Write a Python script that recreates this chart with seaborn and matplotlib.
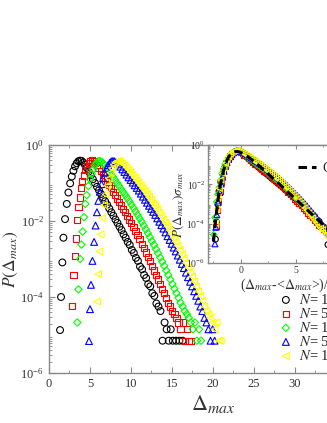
import numpy as np
import matplotlib
matplotlib.use('Agg')
import matplotlib.pyplot as plt
import seaborn as sns
from matplotlib.ticker import AutoMinorLocator, LogLocator, FixedLocator

sns.set_theme(style='ticks')
plt.rcParams['font.family'] = ['Liberation Serif', 'DejaVu Serif']
plt.rcParams['mathtext.fontset'] = 'stix'

# ---- data: Delta_max and log10 P(Delta_max) for each system size ----
labels = ['$N$= 100', '$N$= 500', '$N$= 1000', '$N$= 5000', '$N$= 10000']

x_n100 = [1.35, 1.47, 1.63, 1.76, 1.96, 2.17, 2.37, 2.58, 2.78, 2.98, 3.18, 3.38, 3.58, 3.78, 3.98,
          4.18, 4.38, 4.6, 4.85, 5.1, 5.35, 5.6, 5.85, 6.1, 6.35, 6.6, 6.85, 7.1, 7.35, 7.6, 7.85,
          8.1, 8.35, 8.6, 8.85, 9.1, 9.35, 9.6, 9.85, 10.1, 10.35, 10.6, 10.85, 11.1, 11.35, 11.6,
          11.85, 12.1, 12.35, 12.6, 12.85, 13.1, 13.35, 13.6, 13.85, 14.1, 14.35, 14.6, 14.85,
          15.1, 15.5, 15.9, 16.3]
lp_n100 = [-4.87, -4.0, -3.09, -2.44, -1.95, -1.55, -1.25, -1.01, -0.83, -0.68, -0.56, -0.48, -0.43, -0.41, -0.42,
           -0.46, -0.52, -0.6, -0.7, -0.8, -0.9, -1.0, -1.1, -1.19, -1.29, -1.38, -1.48, -1.57, -1.67, -1.77, -1.86,
           -1.96, -2.05, -2.15, -2.24, -2.35, -2.44, -2.55, -2.63, -2.76, -2.84, -2.97, -3.05, -3.2, -3.27, -3.42,
           -3.5, -3.66, -3.72, -3.9, -3.97, -4.17, -4.25, -4.37, -5.15, -4.67, -4.85, -5.15, -4.85,
           -5.15, -5.15, -5.15, -5.15]

x_n500 = [2.85, 3.0, 3.17, 3.3, 3.45, 3.6, 3.75, 3.9, 4.05, 4.25, 4.45, 4.65, 4.85, 5.05, 5.25, 5.45,
          5.65, 5.85, 6.05, 6.3, 6.55, 6.8, 7.05, 7.3, 7.55, 7.8, 8.05, 8.3, 8.55, 8.8, 9.05, 9.3,
          9.55, 9.8, 10.05, 10.3, 10.55, 10.8, 11.05, 11.3, 11.55, 11.8, 12.05, 12.3, 12.55, 12.8,
          13.05, 13.3, 13.55, 13.8, 14.05, 14.3, 14.55, 14.8, 15.05, 15.3, 15.55, 15.8, 16.05,
          16.3, 16.55, 16.8, 17.05, 17.3]
lp_n500 = [-4.24, -3.42, -2.92, -2.46, -1.97, -1.64, -1.38, -1.14, -0.95, -0.8, -0.66, -0.55, -0.47, -0.42, -0.41, -0.43,
           -0.47, -0.53, -0.6, -0.69, -0.78, -0.87, -0.96, -1.05, -1.14, -1.23, -1.32, -1.41, -1.5, -1.59, -1.68, -1.77,
           -1.86, -1.96, -2.05, -2.15, -2.26, -2.37, -2.48, -2.6, -2.71, -2.83, -2.94, -3.06, -3.18, -3.3,
           -3.42, -3.54, -3.66, -3.78, -3.9, -4.02, -4.15, -4.25, -4.37, -4.45, -4.55, -4.67, -4.85,
           -4.67, -5.15, -4.85, -5.15, -5.15]

x_n1000 = [3.45, 3.6, 3.8, 3.95, 4.1, 4.27, 4.43, 4.6, 4.8, 5.0, 5.2, 5.4, 5.6, 5.8, 6.0, 6.2, 6.4, 6.6,
           6.8, 7.05, 7.3, 7.55, 7.8, 8.05, 8.3, 8.55, 8.8, 9.05, 9.3, 9.55, 9.8, 10.05, 10.3, 10.55,
           10.8, 11.05, 11.3, 11.55, 11.8, 12.05, 12.3, 12.55, 12.8, 13.05, 13.3, 13.55, 13.8, 14.05,
           14.3, 14.55, 14.8, 15.05, 15.3, 15.55, 15.8, 16.05, 16.3, 16.55, 16.8, 17.05, 17.3, 17.55,
           17.8, 18.05, 18.3, 18.55]
lp_n1000 = [-4.67, -3.8, -3.0, -2.62, -2.28, -1.9, -1.55, -1.32, -1.08, -0.9, -0.76, -0.64, -0.54, -0.47, -0.43, -0.42, -0.44, -0.48,
            -0.53, -0.6, -0.68, -0.76, -0.84, -0.92, -1.0, -1.08, -1.16, -1.24, -1.32, -1.4, -1.48, -1.57, -1.66, -1.75,
            -1.84, -1.93, -2.02, -2.12, -2.22, -2.32, -2.42, -2.53, -2.63, -2.74, -2.85, -2.96, -3.07, -3.18,
            -3.3, -3.42, -3.54, -3.66, -3.78, -3.9, -4.02, -4.15, -4.25, -4.37, -4.45, -4.55, -4.67, -4.85,
            -4.67, -5.15, -4.85, -5.15]

x_n5000 = [4.88, 5.0, 5.12, 5.3, 5.5, 5.68, 5.85, 6.02, 6.2, 6.4, 6.6, 6.8, 7.0, 7.2, 7.4, 7.6, 7.8, 8.0,
           8.2, 8.45, 8.7, 8.95, 9.2, 9.45, 9.7, 9.95, 10.2, 10.45, 10.7, 10.95, 11.2, 11.45, 11.7, 11.95,
           12.2, 12.45, 12.7, 12.95, 13.2, 13.45, 13.7, 13.95, 14.2, 14.45, 14.7, 14.95, 15.2, 15.45,
           15.7, 15.95, 16.2, 16.45, 16.7, 16.95, 17.2, 17.45, 17.7, 17.95, 18.2, 18.45, 18.7, 18.95,
           19.2, 19.45, 19.7, 19.95, 20.2]
lp_n5000 = [-5.16, -4.32, -3.68, -3.05, -2.55, -2.12, -1.77, -1.47, -1.23, -1.03, -0.87, -0.73, -0.62, -0.53, -0.47, -0.43, -0.42, -0.43,
            -0.46, -0.51, -0.57, -0.64, -0.71, -0.78, -0.85, -0.92, -0.99, -1.06, -1.13, -1.2, -1.28, -1.36, -1.44, -1.52,
            -1.6, -1.68, -1.76, -1.84, -1.93, -2.02, -2.11, -2.2, -2.3, -2.4, -2.5, -2.6, -2.7, -2.8,
            -2.91, -3.02, -3.13, -3.24, -3.36, -3.48, -3.6, -3.72, -3.85, -3.97, -4.1, -4.25, -4.37, -4.55,
            -4.67, -4.85, -5.15, -4.85, -5.15]

x_n10000 = [5.85, 6.0, 6.15, 6.3, 6.5, 6.7, 6.9, 7.1, 7.3, 7.5, 7.7, 7.9, 8.1, 8.3, 8.5, 8.7,
            8.95, 9.2, 9.45, 9.7, 9.95, 10.2, 10.45, 10.7, 10.95, 11.2, 11.45, 11.7, 11.95, 12.2,
            12.45, 12.7, 12.95, 13.2, 13.45, 13.7, 13.95, 14.2, 14.45, 14.7, 14.95, 15.2, 15.45, 15.7,
            15.95, 16.2, 16.45, 16.7, 16.95, 17.2, 17.45, 17.7, 17.95, 18.2, 18.45, 18.7, 18.95, 19.2,
            19.45, 19.7, 19.95, 20.2, 20.45, 20.7, 20.95]
lp_n10000 = [-4.12, -3.4, -2.8, -2.35, -1.92, -1.58, -1.3, -1.07, -0.88, -0.73, -0.61, -0.52, -0.46, -0.43, -0.42, -0.44,
             -0.48, -0.53, -0.59, -0.65, -0.72, -0.79, -0.86, -0.93, -1.0, -1.07, -1.14, -1.21, -1.29, -1.37,
             -1.45, -1.53, -1.61, -1.69, -1.78, -1.87, -1.96, -2.05, -2.14, -2.24, -2.34, -2.44, -2.54, -2.65,
             -2.76, -2.87, -2.98, -3.1, -3.22, -3.34, -3.46, -3.59, -3.72, -3.85, -3.97, -4.1, -4.25, -4.37,
             -4.45, -4.55, -4.67, -4.85, -4.67, -5.15, -5.15]

# mean and standard deviation of Delta_max for each N (used for the collapse in the inset)
mean_delta = [4.19, 5.7, 6.67, 8.15, 9.05]
sigma_delta = [1.22, 1.25, 1.3, 1.38, 1.4]

# Gumbel curve of the inset
z_gumbel = [-2.5, -2.3, -2.1, -1.9, -1.7, -1.5, -1.3, -1.1, -0.9, -0.7, -0.5, -0.3, -0.1, 0.2, 0.6,
            1.0, 1.5, 2.0, 3.0, 4.0, 5.0, 6.0, 7.0, 8.0, 9.0, 10.0]
lp_gumbel = [-4.9, -3.8, -2.85, -2.1, -1.55, -1.12, -0.8, -0.58, -0.44, -0.36, -0.33, -0.33, -0.36, -0.44, -0.58,
             -0.75, -0.98, -1.22, -1.73, -2.24, -2.76, -3.28, -3.8, -4.33, -4.86, -5.4]

xs = [x_n100, x_n500, x_n1000, x_n5000, x_n10000]
lps = [lp_n100, lp_n500, lp_n1000, lp_n5000, lp_n10000]
colors = ['black', 'red', '#00ff00', 'blue', 'yellow']
markers = ['o', 's', 'D', '^', '<']
sizes = [24, 20, 14, 24, 24]

spine_col = '#888888'
text_col = '#333333'

fig = plt.figure(figsize=(3.27, 4.23), dpi=100)
ax = fig.add_axes([0.1498, 0.1182, 1.003, 0.539])

for x, lp, c, m, s, lab in zip(xs, lps, colors, markers, sizes, labels):
    sns.scatterplot(x=x, y=np.power(10.0, lp), marker=m, s=s, facecolor='none',
                    edgecolor=c, linewidth=0.8, ax=ax, label=lab)

ax.set_yscale('log')
ax.set_xlim(0, 40)
ax.set_ylim(1e-6, 1)
ax.xaxis.set_minor_locator(AutoMinorLocator(2))
ax.yaxis.set_major_locator(FixedLocator([1e-6, 1e-4, 1e-2, 1]))
ax.yaxis.set_minor_locator(LogLocator(base=10, subs=np.arange(2, 10), numticks=20))
ax.tick_params(which='both', direction='in', top=True, right=True, colors=spine_col,
               labelcolor=text_col, labelsize=9)
ax.tick_params(which='major', length=4, width=0.8)
ax.tick_params(which='minor', length=2, width=0.6)
for sp in ax.spines.values():
    sp.set_color(spine_col)
    sp.set_linewidth(1.0)
ax.set_xlabel(r'$\Delta_{max}$', fontsize=16, color=text_col, labelpad=2)
ax.set_ylabel(r'$P(\Delta_{max})$', fontsize=12.5, color=text_col, labelpad=0)

ax.legend(loc='upper left', bbox_to_anchor=(0.70, 0.352), frameon=False, fontsize=10.5,
          handlelength=1.0, handletextpad=0.4, labelspacing=0.0, borderpad=0, borderaxespad=0)

# ---- inset: collapse with the Gumbel distribution ----
ins = fig.add_axes([0.636, 0.378, 0.538, 0.279])
ins.set_facecolor('white')
for x, lp, mu, sd, c, m, s in zip(xs, lps, mean_delta, sigma_delta, colors, markers, sizes):
    z = (np.array(x) - mu) / sd
    sns.scatterplot(x=z, y=np.power(10.0, lp) * sd, marker=m, s=s * 0.75, facecolor='none',
                    edgecolor=c, linewidth=0.8, ax=ins)
sns.lineplot(x=z_gumbel, y=np.power(10.0, lp_gumbel), color='black', lw=2.2,
             dashes=False, linestyle=(0, (2.8, 1.6)), sort=False, ax=ins, label='Gumbel')

ins.set_yscale('log')
ins.set_xlim(-3, 13)
ins.set_ylim(1e-6, 1)
ins.xaxis.set_minor_locator(AutoMinorLocator(2))
ins.yaxis.set_major_locator(FixedLocator([1e-6, 1e-4, 1e-2, 1]))
ins.yaxis.set_minor_locator(LogLocator(base=10, subs=np.arange(2, 10), numticks=20))
ins.tick_params(which='both', direction='in', top=True, right=True, colors=spine_col,
                labelcolor=text_col, labelsize=7, pad=2)
ins.tick_params(which='major', length=3, width=0.8)
ins.tick_params(which='minor', length=1.5, width=0.6)
for sp in ins.spines.values():
    sp.set_color(spine_col)
    sp.set_linewidth(1.0)
ins.set_xlabel(r'($\Delta_{max}$-<$\Delta_{max}$>)/$\sigma_{max}$', fontsize=10, color=text_col, labelpad=1)
ins.set_ylabel(r'$P(\Delta_{max})\sigma_{max}$', fontsize=9.5, color=text_col, labelpad=0)
ins.legend(loc='center left', bbox_to_anchor=(0.511, 0.805), frameon=False, fontsize=10,
           handlelength=1.3, handletextpad=0.5, borderpad=0, borderaxespad=0)

fig.savefig('out.png', dpi=100)
